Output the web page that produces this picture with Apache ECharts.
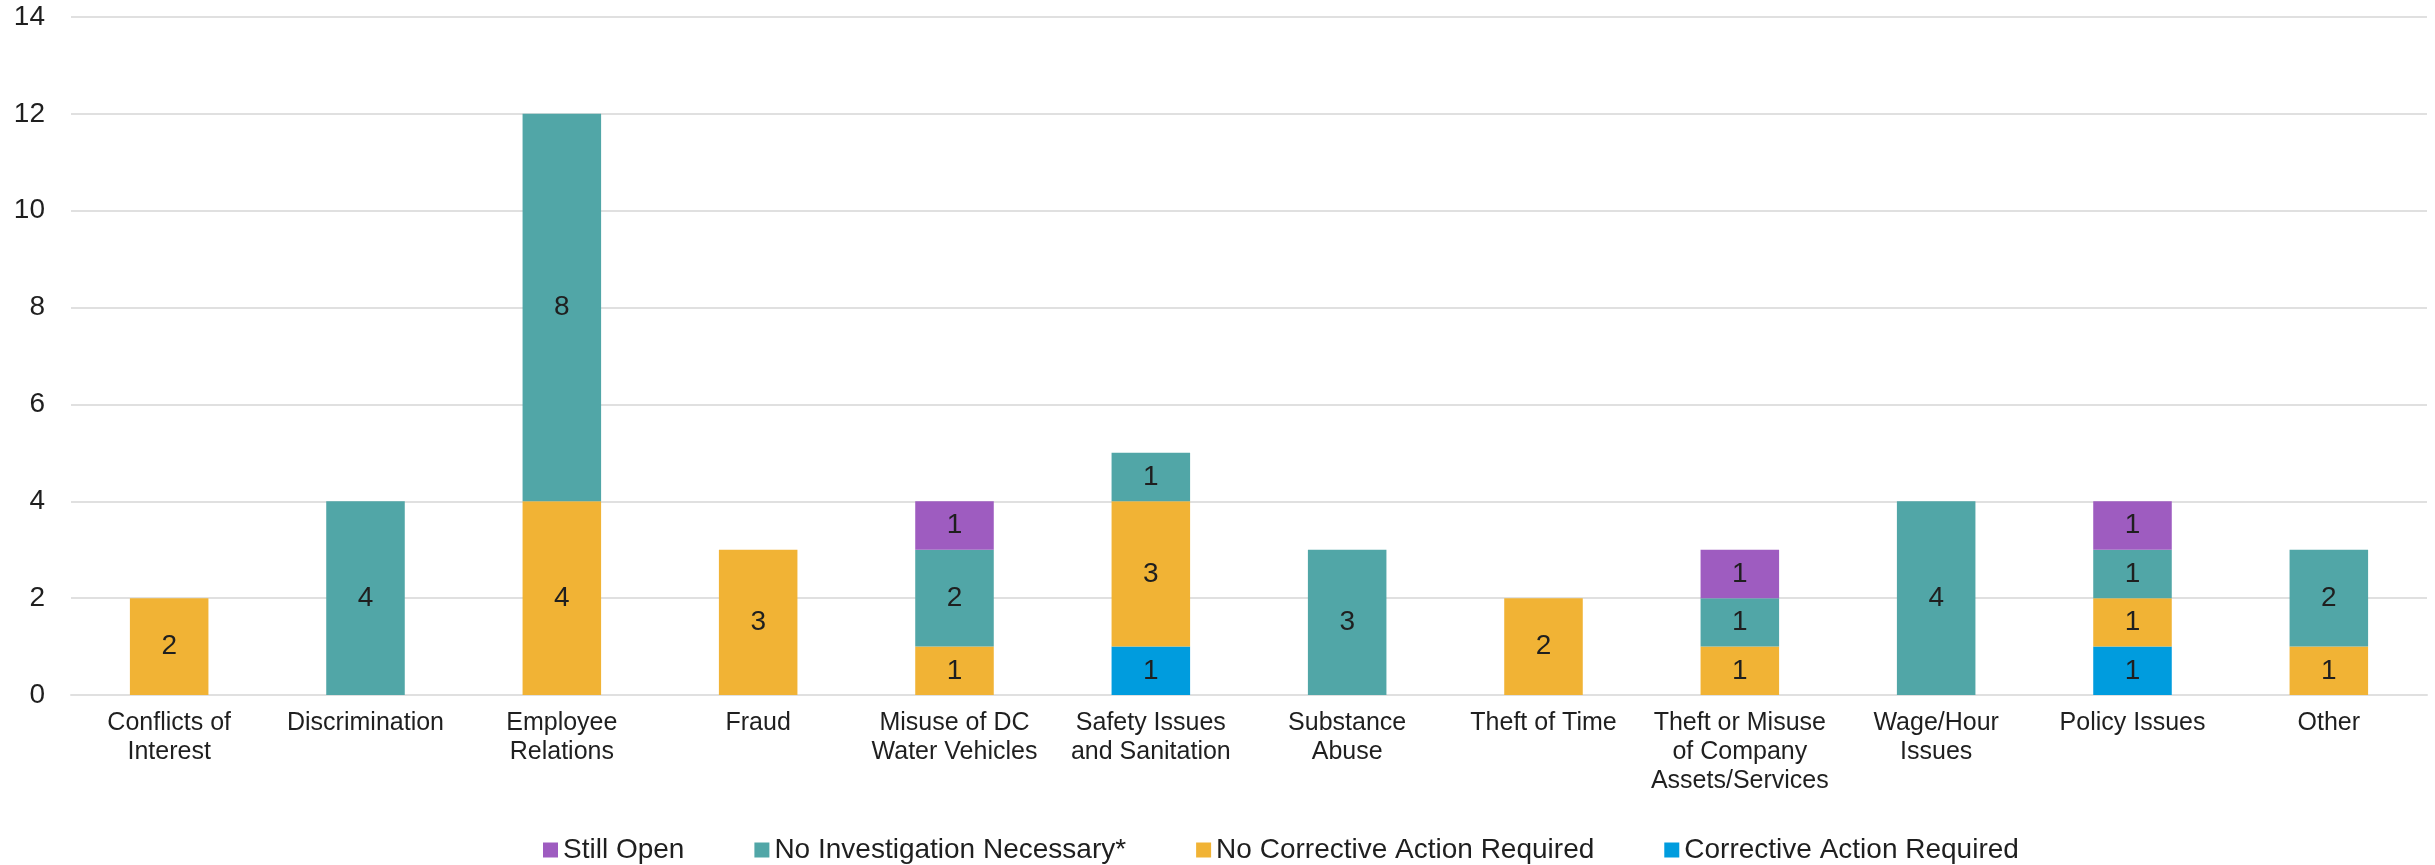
<!DOCTYPE html>
<html>
<head>
<meta charset="utf-8">
<style>
  html, body { margin: 0; padding: 0; background: #ffffff; }
  #chart { width: 2435px; height: 865px; }
</style>
<script src="https://cdn.jsdelivr.net/npm/echarts@6/dist/echarts.min.js"></script>
</head>
<body>
<div id="chart"></div>
<script>
const categories = [
  'Conflicts of\nInterest',
  'Discrimination',
  'Employee\nRelations',
  'Fraud',
  'Misuse of DC\nWater Vehicles',
  'Safety Issues\nand Sanitation',
  'Substance\nAbuse',
  'Theft of Time',
  'Theft or Misuse\nof Company\nAssets/Services',
  'Wage/Hour\nIssues',
  'Policy Issues',
  'Other'
];
const correctiveActionRequired   = [0, 0, 0, 0, 0, 1, 0, 0, 0, 0, 1, 0];
const noCorrectiveActionRequired = [2, 0, 4, 3, 1, 3, 0, 2, 1, 0, 1, 1];
const noInvestigationNecessary   = [0, 4, 8, 0, 2, 1, 3, 0, 1, 4, 1, 2];
const stillOpen                  = [0, 0, 0, 0, 1, 0, 0, 0, 1, 0, 1, 0];
const yTicks = { min: 0, max: 14, interval: 2 };

const FONT = '"Liberation Sans", Arial, sans-serif';
const TEXT = '#1f1f1f';

function makeSeries(name, data, color) {
  return {
    name: name,
    type: 'bar',
    stack: 'total',
    barWidth: '40%',
    data: data,
    itemStyle: { color: color },
    label: {
      show: true,
      position: 'inside',
      color: TEXT,
      fontFamily: FONT,
      fontSize: 28,
      formatter: p => (p.value ? String(p.value) : '')
    },
    emphasis: { disabled: true }
  };
}

const chart = echarts.init(document.getElementById('chart'), null, { renderer: 'canvas' });
chart.setOption({
  animation: false,
  backgroundColor: '#ffffff',
  textStyle: { fontFamily: FONT },
  grid: { left: 71, right: 8, top: 17, bottom: 170, containLabel: false },
  legend: {
    data: ['Still Open', 'No Investigation Necessary*', 'No Corrective Action Required', 'Corrective Action Required'],
    left: 538,
    top: 831,
    icon: 'rect',
    itemWidth: 15,
    itemHeight: 15,
    itemGap: 70,
    textStyle: { fontFamily: FONT, fontSize: 28, color: TEXT }
  },
  xAxis: {
    type: 'category',
    data: categories,
    axisLine: { show: true, lineStyle: { color: '#e0e0e0', width: 2 } },
    axisTick: { show: false },
    axisLabel: {
      interval: 0,
      margin: 14,
      color: TEXT,
      fontFamily: FONT,
      fontSize: 25,
      lineHeight: 29,
      align: 'center'
    }
  },
  yAxis: {
    type: 'value',
    min: yTicks.min,
    max: yTicks.max,
    interval: yTicks.interval,
    axisLine: { show: false },
    axisTick: { show: false },
    splitLine: { lineStyle: { color: '#e0e0e0', width: 2 } },
    axisLabel: { margin: 26, color: TEXT, fontFamily: FONT, fontSize: 28 }
  },
  series: [
    makeSeries('Corrective Action Required', correctiveActionRequired, '#009CDE'),
    makeSeries('No Corrective Action Required', noCorrectiveActionRequired, '#F1B335'),
    makeSeries('No Investigation Necessary*', noInvestigationNecessary, '#51A6A7'),
    makeSeries('Still Open', stillOpen, '#9E5CC0')
  ]
});
</script>
</body>
</html>
